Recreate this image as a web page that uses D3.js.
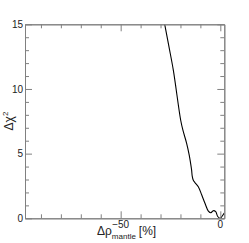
<!DOCTYPE html>
<html>
<head>
<meta charset="utf-8">
<script src="https://cdn.jsdelivr.net/npm/d3@7"></script>
<style>
  body { margin: 0; background: #fff; }
  text { font-family: "Liberation Sans", Arial, sans-serif; }
</style>
</head>
<body>
<script>
// curve: density change (%) vs delta chi^2
const rhoValues = [-29.5, -27.9, -25.75, -23.6, -19.9, -18.8, -16.9, -15.6, -14.9, -14.4, -14.1, -13.6, -12.7, -11.05, -9.3, -7.7, -6.0, -4.7, -3.5, -2.3, -1.3, 0, 0.7, 2.0];
const chiValues = [16.2, 15, 13.25, 11.47, 7.6, 6.83, 5.8, 4.89, 4.25, 3.73, 3.27, 2.96, 2.75, 2.44, 1.8, 1.16, 0.56, 0.43, 0.59, 0.51, 0.14, 0, 0.12, 0.41];
const xMajorTicks = [-50, 0];
const xMinorTicks = [-90, -80, -70, -60, -40, -30, -20, -10];
const yMajorTicks = [0, 5, 10, 15];
const yMinorTicks = d3.range(0, 16).filter(d => d % 5 !== 0);

const width = 249;
const height = 243;
const padL = 25, padR = 224.3, padT = 24.3, padB = 218.3;
const axisColor = '#808080';

const x = d3.scaleLinear().domain([-98, 2]).range([padL, padR]);
const y = d3.scaleLinear().domain([0, 15]).range([padB, padT]);

const svg = d3.select('body')
    .append('svg')
    .attr('width', width)
    .attr('height', height);

svg.append('defs')
    .append('clipPath')
    .attr('id', 'plot-clip')
    .append('rect')
    .attr('x', padL)
    .attr('y', padT)
    .attr('width', padR - padL)
    .attr('height', padB - padT);

// curve
const data = rhoValues.map((d, i) => [d, chiValues[i]]);
svg.append('path')
    .datum(data)
    .attr('clip-path', 'url(#plot-clip)')
    .attr('fill', 'none')
    .attr('stroke', '#000')
    .attr('stroke-width', 1.1)
    .attr('d', d3.line()
        .x(d => x(d[0]))
        .y(d => y(d[1]))
        .curve(d3.curveCatmullRom));

// axes, ticks inside on all four sides
function addAxis(axis, transform, ticks, size) {
    svg.append('g')
        .attr('transform', transform)
        .call(axis.tickValues(ticks).tickSize(size).tickFormat('').tickSizeOuter(0))
        .call(g => g.select('.domain').attr('stroke', axisColor))
        .call(g => g.selectAll('.tick line').attr('stroke', axisColor));
}

addAxis(d3.axisTop(x), 'translate(0,' + padB + ')', xMajorTicks, 7);
addAxis(d3.axisTop(x), 'translate(0,' + padB + ')', xMinorTicks, 4);
addAxis(d3.axisBottom(x), 'translate(0,' + padT + ')', xMajorTicks, 7);
addAxis(d3.axisBottom(x), 'translate(0,' + padT + ')', xMinorTicks, 4);
addAxis(d3.axisRight(y), 'translate(' + padL + ',0)', yMajorTicks, 7);
addAxis(d3.axisRight(y), 'translate(' + padL + ',0)', yMinorTicks, 4);
addAxis(d3.axisLeft(y), 'translate(' + padR + ',0)', yMajorTicks, 7);
addAxis(d3.axisLeft(y), 'translate(' + padR + ',0)', yMinorTicks, 4);

// tick labels
svg.selectAll('.xlab')
    .data(xMajorTicks)
    .enter()
    .append('text')
    .attr('x', d => x(d))
    .attr('y', 228)
    .attr('text-anchor', 'middle')
    .attr('font-size', 10)
    .attr('fill', '#222')
    .text(d => d < 0 ? '\u2212' + Math.abs(d) : d);

svg.selectAll('.ylab')
    .data(yMajorTicks)
    .enter()
    .append('text')
    .attr('x', 23)
    .attr('y', d => y(d) + 3.6)
    .attr('text-anchor', 'end')
    .attr('font-size', 10)
    .attr('fill', '#222')
    .text(d => d);

// axis titles
const xTitle = svg.append('text')
    .attr('x', 97)
    .attr('y', 235)
    .attr('font-size', 12)
    .attr('fill', '#222');
xTitle.append('tspan').text('\u0394\u03c1');
xTitle.append('tspan').attr('font-size', 8).attr('dy', 4).text('mantle');
xTitle.append('tspan').attr('dy', -4).attr('dx', 3).text('[%]');

const yTitle = svg.append('text')
    .attr('transform', 'translate(13,121) rotate(-90)')
    .attr('text-anchor', 'middle')
    .attr('font-size', 12)
    .attr('fill', '#222');
yTitle.append('tspan').text('\u0394\u03c7');
yTitle.append('tspan').attr('font-size', 8).attr('dy', -5).text('2');
</script>
</body>
</html>
